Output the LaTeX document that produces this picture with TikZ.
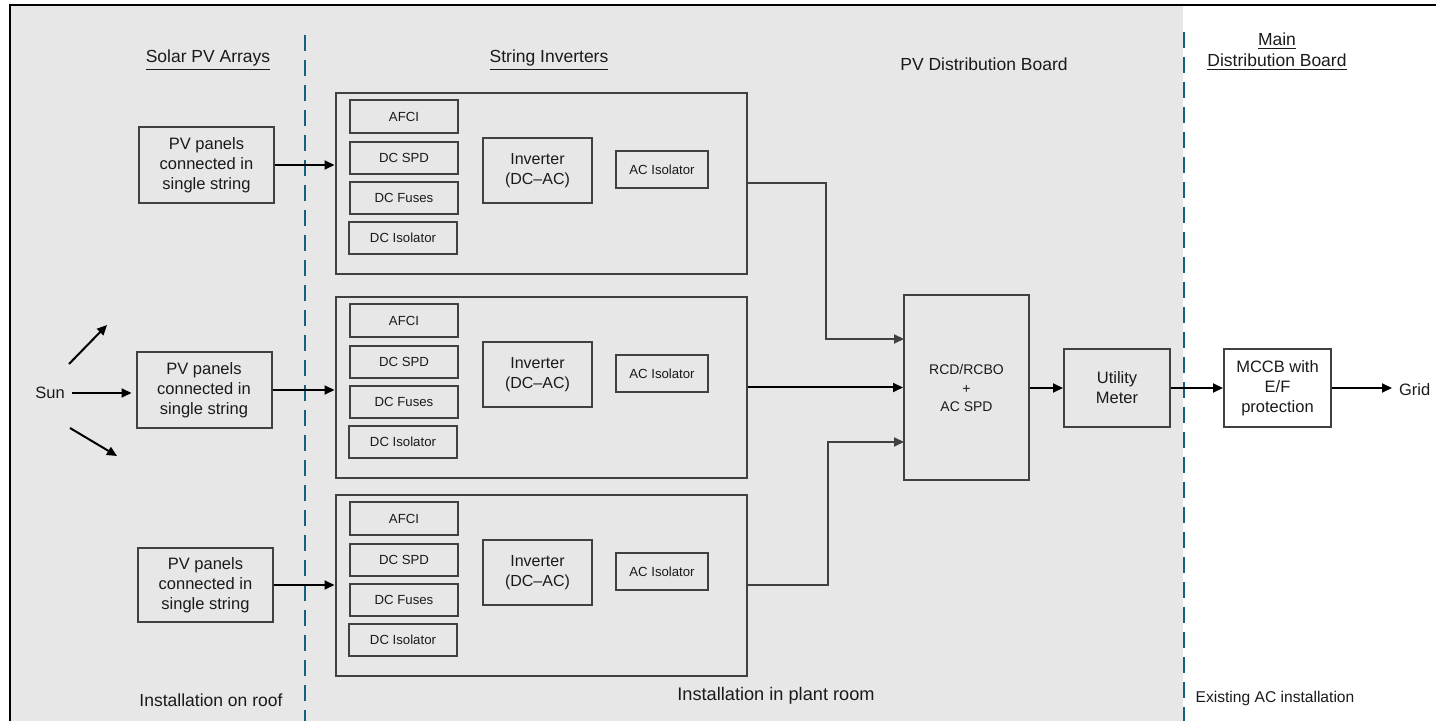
\documentclass[tikz,border=0pt]{standalone}
\usepackage{fontspec}
\setmainfont{Liberation Sans}
\usetikzlibrary{arrows.meta,calc}
\definecolor{bgfill}{HTML}{E7E7E7}
\definecolor{boxline}{HTML}{404040}
\definecolor{divblue}{HTML}{156082}
\definecolor{txt}{HTML}{1A1A1A}
\begin{document}
\begin{tikzpicture}[x=0.5pt,y=-0.5pt,
  box/.style={draw=boxline, line width=1pt, inner sep=0pt, align=center, text=txt, font=\fontsize{8.25}{10}\selectfont},
  sbox/.style={draw=boxline, line width=1.1pt, inner sep=0pt, align=center, text=txt, font=\fontsize{6.6}{8}\selectfont, minimum width=54pt, minimum height=16.25pt},
  conn/.style={line width=1pt, -{Triangle[length=5pt,width=4.5pt]}},
  gconn/.style={conn, draw=boxline},
  divider/.style={draw=divblue, line width=1.2pt, dash pattern=on 8pt off 4.5pt},
  hdr/.style={text=txt, font=\fontsize{8.75}{10.5}\selectfont, align=center},
  lbl/.style={text=txt, font=\fontsize{8.25}{10}\selectfont}]
\useasboundingbox (0,0) rectangle (1436,721);
% background and frame
\fill[bgfill] (10,5) rectangle (1183,721);
\draw[line width=1.2pt] (10,721) -- (10,5) -- (1436,5);
% dividers
\draw[divider] (305,35) -- (305,721);
\draw[divider] (1184,32) -- (1184,721);
% headers
\node[hdr] (h1) at (208,60) {\underline{Solar PV Arrays}};
\node[hdr] (h2) at (549,60) {\underline{String Inverters}};
\node[hdr] (h3) at (984,64) {PV Distribution Board};
\node[hdr] (h4) at (1277,52) {\underline{Main}\\\underline{Distribution Board}};
% bottom labels
\node[hdr] (b1) at (211,700) {Installation on roof};
\node[hdr, font=\fontsize{9.1}{11}\selectfont] (b2) at (776,696) {Installation in plant room};
\node[hdr, font=\fontsize{7.8}{10}\selectfont] (b3) at (1275,698) {Existing AC installation};
% PV panels
\node[box, minimum width=67.5pt, minimum height=38pt] (pv1) at (206.5,165) {PV panels\\connected in\\single string};
\node[box, minimum width=67.5pt, minimum height=38pt] (pv2) at (204,390) {PV panels\\connected in\\single string};
\node[box, minimum width=67.5pt, minimum height=37pt] (pv3) at (205.5,585) {PV panels\\connected in\\single string};
% inverters
\foreach \i/\t in {1/93,2/297,3/495}{
  \node[box, minimum width=205.5pt, minimum height=90.5pt] (inv\i) at (541,\t+90.5) {};
  \node[sbox] (afci\i) at (404,\t+23.5) {AFCI};
  \node[sbox] (spd\i) at (404,\t+65) {DC SPD};
  \node[sbox] (fuse\i) at (404,\t+105) {DC Fuses};
  \node[sbox] (iso\i) at (403,\t+145) {DC Isolator};
  \node[box, font=\fontsize{8}{10}\selectfont, minimum width=54.5pt, minimum height=32.5pt] (conv\i) at (537.5,\t+77.5) {Inverter\\(DC--AC)};
  \node[sbox, minimum width=46pt, minimum height=18.5pt] (aciso\i) at (662,\t+76.5) {AC Isolator};
}
% distribution
\node[box, font=\fontsize{7}{9.25}\selectfont, minimum width=62.5pt, minimum height=92.5pt] (rcd) at (966.5,388) {RCD/RCBO\\+\\AC SPD};
\node[box, minimum width=53pt, minimum height=39pt] (meter) at (1117,388) {Utility\\Meter};
\node[box, minimum width=53.5pt, minimum height=39pt] (mccb) at (1277.5,388) {MCCB with\\E/F\\protection};
\node[lbl, anchor=west] (grid) at (1392,390) {Grid};
% sun
\node[lbl] (sun) at (50,393) {Sun};
\coordinate (ray1a) at (69,364);
\coordinate (ray1b) at (107,325);
\coordinate (ray3a) at (70,428);
\coordinate (ray3b) at (117,456);
\draw[conn] (ray1a) -- (ray1b);
\draw[conn] (ray3a) -- (ray3b);
\draw[conn, shorten >=2pt] (sun.east) -- (sun.east -| pv2.west);
% PV to inverter
\draw[conn] (pv1.east) -- (pv1.east -| inv1.west);
\draw[conn] (pv2.east) -- (pv2.east -| inv2.west);
\draw[conn] (pv3.east) -- (pv3.east -| inv3.west);
% inverter to RCD
\coordinate (rin1) at (904,339);
\coordinate (rin3) at (904,442);
\draw[gconn] (inv1.east) -- ++(78,0) |- (rin1);
\draw[conn] (inv2.east) -- (inv2.east -| rcd.west);
\draw[gconn] (inv3.east) -- ++(80,0) |- (rin3);
% chain
\draw[conn] (rcd.east) -- (meter.west);
\draw[conn] (meter.east) -- (mccb.west);
\draw[conn] (mccb.east) -- (mccb.east -| grid.west);
\end{tikzpicture}
\end{document}
